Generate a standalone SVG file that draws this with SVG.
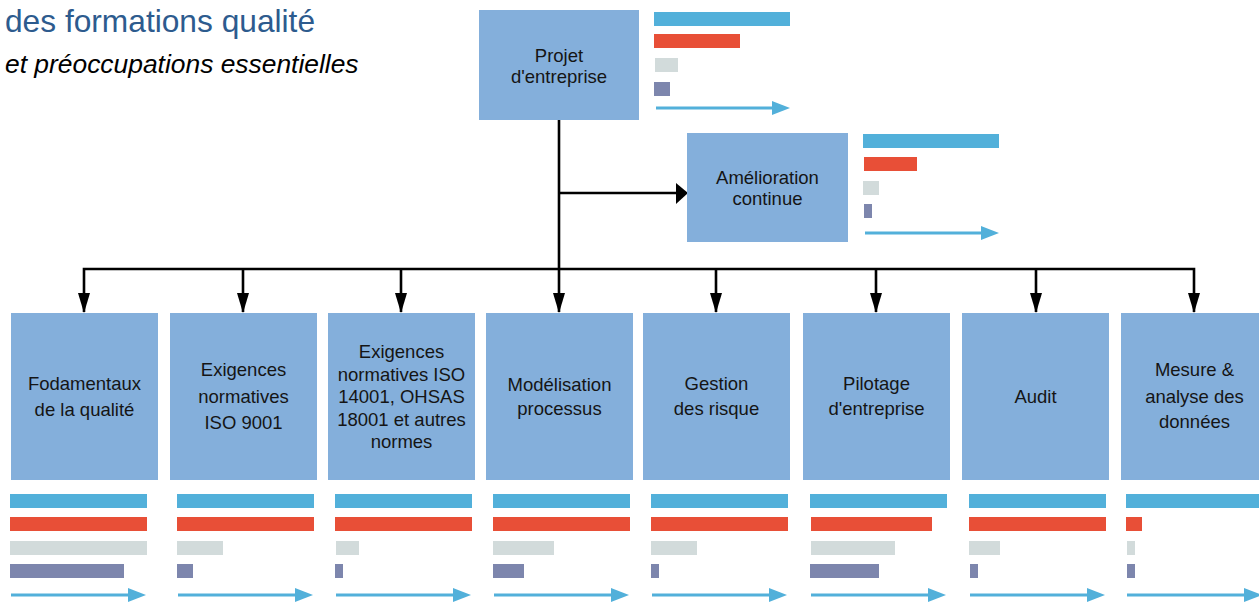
<svg xmlns="http://www.w3.org/2000/svg" width="1259" height="602" viewBox="0 0 1259 602">
<style>
.box{fill:#84afdb}
.t{font-family:"Liberation Sans",Arial,sans-serif;font-size:18.5px;fill:#151515;text-anchor:middle}
.b{fill:#52b0da}.r{fill:#e84f37}.g{fill:#d2dbdb}.p{fill:#7d86ad}
.al{stroke:#52b0da;stroke-width:3;fill:none}
.ah{fill:#52b0da}
.c{stroke:#000;stroke-width:2.6;fill:none}
.ch{fill:#000}
</style>
<text x="5" y="32" font-family="Liberation Sans, Arial, sans-serif" font-size="31.7" fill="#2d5b8e">des formations qualité</text>
<text x="5" y="73" font-family="Liberation Sans, Arial, sans-serif" font-size="26.4" font-style="italic" fill="#000">et préoccupations essentielles</text>

<g id="connectors">
<path class="c" d="M559 120V269M559 193H678M84 312V269H1194V312M243 269V312M401 269V312M559 269V312M716 269V312M876 269V312M1036 269V312"/>
<polygon class="ch" points="676,183 688,193 676,204"/>
<polygon class="ch" points="78,293 90,293 84,313"/>
<polygon class="ch" points="237,293 249,293 243,313"/>
<polygon class="ch" points="395,293 407,293 401,313"/>
<polygon class="ch" points="553,293 565,293 559,313"/>
<polygon class="ch" points="710,293 722,293 716,313"/>
<polygon class="ch" points="870,293 882,293 876,313"/>
<polygon class="ch" points="1030,293 1042,293 1036,313"/>
<polygon class="ch" points="1188,293 1200,293 1194,313"/>
</g>

<g id="n-projet">
<rect class="box" x="479" y="10" width="160" height="110"/>
<text class="t" x="559" y="62">Projet</text>
<text class="t" x="559" y="83">d'entreprise</text>
<rect class="b" x="654" y="12" width="136" height="14"/>
<rect class="r" x="654" y="34" width="86" height="14"/>
<rect class="g" x="655" y="58" width="23" height="14"/>
<rect class="p" x="654" y="82" width="16" height="14"/>
<path class="al" d="M656 108H776"/><polygon class="ah" points="772,101 790,108 772,115"/>
</g>

<g id="n-amelioration">
<rect class="box" x="687" y="133" width="161" height="109"/>
<text class="t" x="767.5" y="184">Amélioration</text>
<text class="t" x="767.5" y="205">continue</text>
<rect class="b" x="863" y="134" width="136" height="14"/>
<rect class="r" x="864" y="157" width="53" height="14"/>
<rect class="g" x="863" y="181" width="16" height="14"/>
<rect class="p" x="864" y="204" width="8" height="14"/>
<path class="al" d="M865 233H985"/><polygon class="ah" points="981,226 999,233 981,240"/>
</g>

<g id="n-fondamentaux">
<rect class="box" x="11" y="313" width="147" height="167"/>
<text class="t" x="84.5" y="390">Fodamentaux</text>
<text class="t" x="84.5" y="416">de la qualité</text>
<rect class="b" x="10" y="494" width="137" height="14"/>
<rect class="r" x="10" y="517" width="137" height="14"/>
<rect class="g" x="10" y="541" width="137" height="14"/>
<rect class="p" x="10" y="564" width="114" height="14"/>
<path class="al" d="M11 595H132"/><polygon class="ah" points="128,588 146,595 128,602"/>
</g>

<g id="n-iso9001">
<rect class="box" x="170" y="313" width="147" height="167"/>
<text class="t" x="243.5" y="376">Exigences</text>
<text class="t" x="243.5" y="402.5">normatives</text>
<text class="t" x="243.5" y="429">ISO 9001</text>
<rect class="b" x="177" y="494" width="137" height="14"/>
<rect class="r" x="177" y="517" width="137" height="14"/>
<rect class="g" x="177" y="541" width="46" height="14"/>
<rect class="p" x="177" y="564" width="16" height="14"/>
<path class="al" d="M178 595H299"/><polygon class="ah" points="295,588 313,595 295,602"/>
</g>

<g id="n-iso14001">
<rect class="box" x="328" y="313" width="147" height="167"/>
<text class="t" x="401.5" y="358">Exigences</text>
<text class="t" x="401.5" y="380.5">normatives ISO</text>
<text class="t" x="401.5" y="403">14001, OHSAS</text>
<text class="t" x="401.5" y="425.5">18001 et autres</text>
<text class="t" x="401.5" y="448">normes</text>
<rect class="b" x="335" y="494" width="137" height="14"/>
<rect class="r" x="335" y="517" width="137" height="14"/>
<rect class="g" x="336" y="541" width="23" height="14"/>
<rect class="p" x="335" y="564" width="8" height="14"/>
<path class="al" d="M336 595H457"/><polygon class="ah" points="453,588 471,595 453,602"/>
</g>

<g id="n-modelisation">
<rect class="box" x="486" y="313" width="147" height="167"/>
<text class="t" x="559.5" y="391">Modélisation</text>
<text class="t" x="559.5" y="415">processus</text>
<rect class="b" x="493" y="494" width="137" height="14"/>
<rect class="r" x="493" y="517" width="137" height="14"/>
<rect class="g" x="493" y="541" width="61" height="14"/>
<rect class="p" x="493" y="564" width="31" height="14"/>
<path class="al" d="M494 595H615"/><polygon class="ah" points="611,588 629,595 611,602"/>
</g>

<g id="n-risque">
<rect class="box" x="643" y="313" width="147" height="167"/>
<text class="t" x="716.5" y="390">Gestion</text>
<text class="t" x="716.5" y="415">des risque</text>
<rect class="b" x="651" y="494" width="137" height="14"/>
<rect class="r" x="651" y="517" width="137" height="14"/>
<rect class="g" x="651" y="541" width="46" height="14"/>
<rect class="p" x="651" y="564" width="8" height="14"/>
<path class="al" d="M652 595H773"/><polygon class="ah" points="769,588 787,595 769,602"/>
</g>

<g id="n-pilotage">
<rect class="box" x="803" y="313" width="147" height="167"/>
<text class="t" x="876.5" y="390">Pilotage</text>
<text class="t" x="876.5" y="415">d'entreprise</text>
<rect class="b" x="810" y="494" width="137" height="14"/>
<rect class="r" x="811" y="517" width="121" height="14"/>
<rect class="g" x="811" y="541" width="84" height="14"/>
<rect class="p" x="810" y="564" width="69" height="14"/>
<path class="al" d="M811 595H932"/><polygon class="ah" points="928,588 946,595 928,602"/>
</g>

<g id="n-audit">
<rect class="box" x="962" y="313" width="147" height="167"/>
<text class="t" x="1035.5" y="403">Audit</text>
<rect class="b" x="969" y="494" width="137" height="14"/>
<rect class="r" x="969" y="517" width="137" height="14"/>
<rect class="g" x="969" y="541" width="31" height="14"/>
<rect class="p" x="970" y="564" width="8" height="14"/>
<path class="al" d="M970 595H1091"/><polygon class="ah" points="1087,588 1105,595 1087,602"/>
</g>

<g id="n-mesure">
<rect class="box" x="1121" y="313" width="147" height="167"/>
<text class="t" x="1194.5" y="376">Mesure &amp;</text>
<text class="t" x="1194.5" y="403">analyse des</text>
<text class="t" x="1194.5" y="428">données</text>
<rect class="b" x="1126" y="494" width="137" height="14"/>
<rect class="r" x="1126" y="517" width="16" height="14"/>
<rect class="g" x="1127" y="541" width="8" height="14"/>
<rect class="p" x="1127" y="564" width="8" height="14"/>
<path class="al" d="M1127 595H1248"/><polygon class="ah" points="1244,588 1262,595 1244,602"/>
</g>
</svg>
